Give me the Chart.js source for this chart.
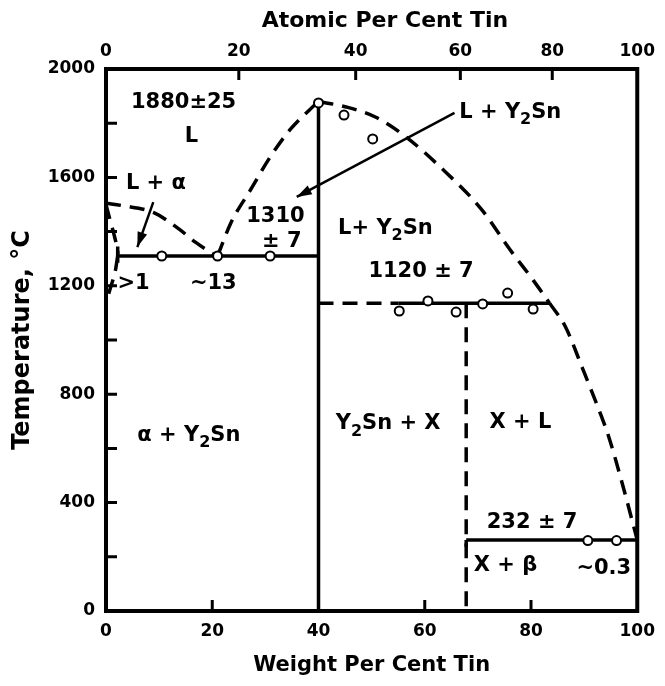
<!DOCTYPE html>
<html><head><meta charset="utf-8">
<script src="https://cdn.jsdelivr.net/npm/chart.js@4/dist/chart.umd.min.js"></script>
<style>html,body{margin:0;padding:0;background:#fff;}canvas{display:block;}</style>
</head><body>
<canvas id="c" width="665" height="686"></canvas>
<script>
// ---------- axes ----------
const weightTickLabels = [0, 20, 40, 60, 80, 100];
const atomicTickLabels = [0, 20, 40, 60, 80, 100];
const atomicTickPosWt  = [0, 25, 47, 66.7, 84, 100];   // where the atomic % ticks fall on the weight % scale
const tempTickLabels   = [0, 400, 800, 1200, 1600, 2000];
const tempMinorTicks   = [200, 400, 600, 800, 1000, 1200, 1400, 1600, 1800];
const weightMinorTicks = [20, 40, 60, 80];
const topTitle = 'Atomic Per Cent Tin';

// ---------- phase boundaries (wt % Sn, deg C) ----------
const liquidusLeft   = [[0,1505],[3,1496],[9,1470],[13.7,1410],[16.9,1360],[19.8,1322],[21,1310]];
const solidusAlpha   = [[0,1500],[0.6,1455],[1.5,1390],[2.2,1330],[2.2,1310]];
const solvusAlpha    = [[2.2,1310],[1.7,1250],[0.8,1190],[0.2,1150]];
const liquidusMid    = [[21,1310],[23.5,1432],[27.2,1554],[30.9,1675],[34.6,1775],[38.3,1849],[40,1880]];
const liquidusRight  = [[40,1880],[45.2,1860],[50.7,1823],[56.3,1752],[63.1,1635],[70.6,1484],[76.1,1332],[80.4,1221],[83.5,1136]];
const liquidusTin    = [[83.5,1136],[86.5,1048],[89.6,900],[93.3,716],[94.6,645],[97,483],[100,262]];
const y2snLine       = [[40,0],[40,1880]];
const eutecticLine   = [[2.2,1310],[40,1310]];
const eutecticEnd    = [[2.2,1345],[2.2,1285]];
const perDashed      = [[40,1136],[55,1136]];
const perSolid       = [[55,1136],[83.5,1136]];
const xPhaseLine     = [[67.8,1136],[67.8,0]];
const tinLine        = [[67.8,262],[100,262]];
const tinCorner      = [[67.8,262],[67.8,236]];
const arrowAlpha     = [[8.9,1509],[5.9,1343]];
const arrowY2Sn      = [[65.6,1838],[35.9,1528]];

// measured points (open circles)
const pointsWt   = [10.5, 21, 30.9, 40, 44.8, 50.2, 55.2, 60.6, 65.9, 70.9, 75.6, 80.4, 90.7, 96.1];
const pointsTemp = [1310, 1310, 1310, 1875, 1830, 1742, 1107, 1144, 1103, 1133, 1173, 1114, 260, 260];

// ---------- labels (text, wt %, deg C) ; "_2" = subscript 2 ----------
const labelTexts = ["1880±25","L","L + α","1310","± 7",">1","~13","L + Y_2Sn","L+ Y_2Sn","1120 ± 7","α + Y_2Sn","Y_2Sn + X","X + L","232 ± 7","X + β","~0.3"];
const labelWt    = [14.6, 16.1, 9.4, 31.9, 33.1, 5.2, 20.2, 76.1, 52.6, 59.3, 15.6, 53.1, 78.0, 80.2, 75.2, 93.7];
const labelTemp  = [1878, 1749, 1579, 1454, 1362, 1210, 1210, 1841, 1413, 1251, 649, 690, 694, 325, 166, 155];

const FONT = '"DejaVu Sans", "Liberation Sans", sans-serif';
const pts = a => a.map(([x, y]) => ({x, y}));
const DASH = [15, 9];

function lineDs(arr, dashed, extra) {
  return Object.assign({
    data: pts(arr), showLine: true, pointRadius: 0, borderColor: '#000',
    borderWidth: 3.5, borderDash: dashed ? DASH : [], tension: 0, order: 2,
    borderCapStyle: 'butt'
  }, extra || {});
}
const curved = {cubicInterpolationMode: 'monotone'};

const datasets = [
  lineDs(liquidusLeft, true, curved),
  lineDs(solidusAlpha, true, {tension: 0.3}),
  lineDs(solvusAlpha, true, {tension: 0.3}),
  lineDs(liquidusMid, true, curved),
  lineDs(liquidusRight, true, curved),
  lineDs(liquidusTin, true, curved),
  lineDs(y2snLine, false),
  lineDs(eutecticLine, false),
  lineDs(eutecticEnd, false),
  lineDs(perDashed, true),
  lineDs(perSolid, false),
  lineDs(xPhaseLine, true),
  lineDs(tinLine, false),
  lineDs(tinCorner, false),
  lineDs(arrowAlpha, false, {borderWidth: 2.5}),
  lineDs(arrowY2Sn, false, {borderWidth: 2.5}),
  {
    data: pointsWt.map((x, i) => ({x, y: pointsTemp[i]})),
    showLine: false, pointRadius: 4.5, pointHoverRadius: 4.5,
    pointBackgroundColor: '#fff', pointBorderColor: '#000', pointBorderWidth: 2, order: 0
  }
];

function drawRich(ctx, text, cx, cy, size) {
  const parts = text.split(/_(\d)/);
  const segs = parts.map((t, i) => ({t, sub: i % 2 === 1})).filter(s => s.t.length);
  const fMain = 'bold ' + size + 'px ' + FONT;
  const fSub = 'bold ' + Math.round(size * 0.75) + 'px ' + FONT;
  let w = 0;
  segs.forEach(s => { ctx.font = s.sub ? fSub : fMain; s.w = ctx.measureText(s.t).width; w += s.w; });
  let x = cx - w / 2;
  ctx.textAlign = 'left';
  ctx.textBaseline = 'middle';
  segs.forEach(s => {
    ctx.font = s.sub ? fSub : fMain;
    ctx.fillText(s.t, x, s.sub ? cy + size * 0.35 : cy);
    x += s.w;
  });
}

function arrowHead(ctx, x, y, from, to) {
  const p1 = {x: x.getPixelForValue(from[0]), y: y.getPixelForValue(from[1])};
  const p2 = {x: x.getPixelForValue(to[0]), y: y.getPixelForValue(to[1])};
  const ang = Math.atan2(p2.y - p1.y, p2.x - p1.x);
  const L = 15, W = 5;
  ctx.beginPath();
  ctx.moveTo(p2.x, p2.y);
  ctx.lineTo(p2.x - L * Math.cos(ang) + W * Math.sin(ang), p2.y - L * Math.sin(ang) - W * Math.cos(ang));
  ctx.lineTo(p2.x - L * Math.cos(ang) - W * Math.sin(ang), p2.y - L * Math.sin(ang) + W * Math.cos(ang));
  ctx.closePath();
  ctx.fill();
}

const overlay = {
  id: 'overlay',
  afterDatasetsDraw(chart) {
    const {ctx, chartArea: a, scales: {x, y}} = chart;
    ctx.save();
    ctx.strokeStyle = '#000';
    ctx.fillStyle = '#000';
    ctx.lineWidth = 4;
    ctx.strokeRect(a.left, a.top, a.right - a.left, a.bottom - a.top);
    ctx.lineWidth = 3;
    const tl = 11;
    ctx.beginPath();
    weightMinorTicks.forEach(v => { const p = x.getPixelForValue(v); ctx.moveTo(p, a.bottom); ctx.lineTo(p, a.bottom - tl); });
    atomicTickPosWt.slice(1, -1).forEach(v => { const p = x.getPixelForValue(v); ctx.moveTo(p, a.top); ctx.lineTo(p, a.top + tl); });
    tempMinorTicks.forEach(v => { const p = y.getPixelForValue(v); ctx.moveTo(a.left, p); ctx.lineTo(a.left + tl, p); });
    ctx.stroke();
    arrowHead(ctx, x, y, arrowAlpha[0], arrowAlpha[1]);
    arrowHead(ctx, x, y, arrowY2Sn[0], arrowY2Sn[1]);
    labelTexts.forEach((t, i) => drawRich(ctx, t, x.getPixelForValue(labelWt[i]), y.getPixelForValue(labelTemp[i]), 21));
    // top axis title (atomic per cent), set slightly right of centre as in the original
    ctx.font = 'bold 22px ' + FONT;
    ctx.textAlign = 'center';
    ctx.textBaseline = 'middle';
    ctx.fillText(topTitle, x.getPixelForValue(52.5), 21);
    ctx.restore();
  }
};

const tickFont = {family: FONT, size: 17, weight: 'bold'};
const titleFont = {family: FONT, size: 21, weight: 'bold'};

new Chart(document.getElementById('c'), {
  type: 'scatter',
  data: {datasets},
  options: {
    responsive: false, animation: false, devicePixelRatio: 1,
    layout: {padding: {left: 0, right: 19, top: 0, bottom: 0}},
    plugins: {legend: {display: false}, tooltip: {enabled: false}},
    events: [],
    scales: {
      x: {
        type: 'linear', position: 'bottom', min: 0, max: 100,
        afterBuildTicks: s => { s.ticks = weightTickLabels.map(v => ({value: v})); },
        ticks: {font: tickFont, color: '#000', padding: 10, autoSkip: false, maxRotation: 0,
                callback: (v, i) => String(weightTickLabels[i])},
        grid: {display: false, drawTicks: false}, border: {display: false},
        title: {display: true, text: 'Weight Per Cent Tin', font: titleFont, color: '#000', padding: {top: 0, bottom: 8}},
        afterFit: s => { s.height = 75; }
      },
      x2: {
        type: 'linear', position: 'top', min: 0, max: 100,
        afterBuildTicks: s => { s.ticks = atomicTickPosWt.map(v => ({value: v})); },
        ticks: {font: tickFont, color: '#000', padding: 7, autoSkip: false, maxRotation: 0,
                callback: (v, i) => String(atomicTickLabels[i])},
        grid: {display: false, drawTicks: false}, border: {display: false},
        title: {display: false},
        afterFit: s => { s.height = 69; }
      },
      y: {
        type: 'linear', position: 'left', min: 0, max: 2000,
        afterBuildTicks: s => { s.ticks = tempTickLabels.map(v => ({value: v})); },
        ticks: {font: tickFont, color: '#000', padding: 11,
                callback: (v, i) => String(tempTickLabels[i])},
        grid: {display: false, drawTicks: false}, border: {display: false},
        title: {display: true, text: 'Temperature, °C', font: {family: FONT, size: 24, weight: 'bold'}, color: '#000', padding: {top: 8, bottom: 0}},
        afterFit: s => { s.width = 106; }
      }
    }
  },
  plugins: [overlay]
});
</script>
</body></html>
